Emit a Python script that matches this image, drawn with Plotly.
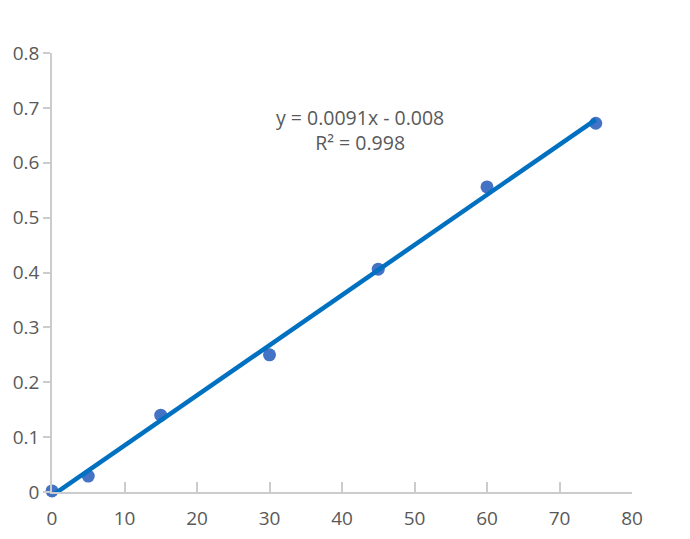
import numpy as np
import plotly.graph_objects as go

# Data
time_x = [0, 5, 15, 30, 45, 60, 75]
absorbance = [0.002, 0.029, 0.14, 0.25, 0.406, 0.556, 0.672]
x_ticks = [0, 10, 20, 30, 40, 50, 60, 70, 80]
y_ticks = [0, 0.1, 0.2, 0.3, 0.4, 0.5, 0.6, 0.7, 0.8]
y_tick_text = ['0', '0.1', '0.2', '0.3', '0.4', '0.5', '0.6', '0.7', '0.8']

MARKER_COLOR = '#4472C4'
LINE_COLOR = '#0070C0'
AXIS_COLOR = '#CCCCCC'
TEXT_COLOR = '#595959'
FONT = 'Open Sans, Noto Sans, sans-serif'

# Linear trendline
slope, intercept = np.polyfit(time_x, absorbance, 1)
trend_x = np.array([min(time_x), max(time_x)])
trend_y = slope * trend_x + intercept

fig = go.Figure()

fig.add_trace(go.Scatter(
    x=time_x,
    y=absorbance,
    mode='markers',
    marker=dict(color=MARKER_COLOR, size=13),
    cliponaxis=False,
    showlegend=False
))

fig.add_trace(go.Scatter(
    x=trend_x,
    y=trend_y,
    mode='lines',
    line=dict(color=LINE_COLOR, width=4.5),
    showlegend=False
))

fig.add_annotation(
    x=0.531, y=0.8235, xref='paper', yref='paper',
    xanchor='center', yanchor='middle',
    text='y = 0.0091x - 0.008<br>R² = 0.998',
    showarrow=False,
    font=dict(size=19.5, color=TEXT_COLOR, family=FONT),
    align='center'
)

fig.update_layout(
    width=690,
    height=539,
    paper_bgcolor='white',
    plot_bgcolor='white',
    margin=dict(l=44, r=66, t=45, b=55),
    font=dict(family=FONT, size=19, color=TEXT_COLOR),
    xaxis=dict(
        range=[0, 80],
        tickvals=x_ticks,
        showgrid=False,
        zeroline=False,
        showline=True,
        linecolor=AXIS_COLOR,
        linewidth=1.5,
        ticks='inside',
        ticklen=10,
        tickcolor=AXIS_COLOR,
        tickwidth=1.5,
        ticklabelstandoff=8,
        automargin=False
    ),
    yaxis=dict(
        range=[0, 0.8],
        tickvals=y_ticks,
        ticktext=y_tick_text,
        showgrid=False,
        zeroline=False,
        showline=True,
        linecolor=AXIS_COLOR,
        linewidth=1.5,
        ticks='outside',
        ticklen=7,
        tickcolor=AXIS_COLOR,
        tickwidth=1.5,
        automargin=False
    )
)

fig.write_html("out.html")
